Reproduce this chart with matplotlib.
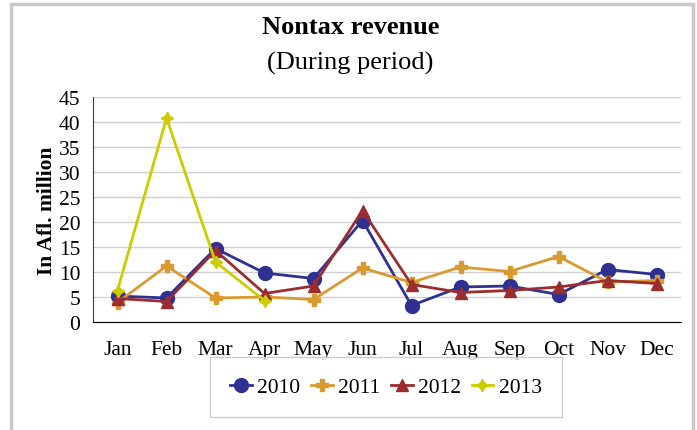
import matplotlib
matplotlib.use("Agg")
import matplotlib.pyplot as plt
from matplotlib.patches import Rectangle

plt.rcParams['font.family'] = ['Liberation Serif', 'DejaVu Serif']

months = ['Jan', 'Feb', 'Mar', 'Apr', 'May', 'Jun', 'Jul', 'Aug', 'Sep', 'Oct', 'Nov', 'Dec']
rev_2010 = [5.2, 4.8, 14.7, 9.8, 8.7, 20.3, 3.3, 7.0, 7.2, 5.5, 10.5, 9.5]
rev_2011 = [3.9, 11.2, 4.8, 5.0, 4.5, 10.8, 7.9, 11.0, 10.1, 13.1, 8.0, 8.3]
rev_2012 = [4.7, 4.1, 14.3, 5.7, 7.2, 22.3, 7.5, 5.9, 6.3, 7.0, 8.3, 7.7]
rev_2013 = [6.3, 40.8, 12.0, 4.3]
yticks = list(range(0, 50, 5))

fig = plt.figure(figsize=(6.97, 4.31), dpi=100)
ax = fig.add_axes([93 / 697, 1 - 323 / 431, (681 - 93) / 697, (323 - 98) / 431])

# chart frame around everything
fig.patches.append(Rectangle((11 / 697, -0.05), (693 - 11) / 697, 1 - 5 / 431 + 0.05,
                             transform=fig.transFigure, fill=False,
                             edgecolor='#c8c8c8', linewidth=2.5))

x = list(range(len(months)))
ax.plot(x, rev_2010, color='#2e3192', lw=2, marker='o', ms=10, label='2010')
ax.plot(x, rev_2011, color='#d99a30', lw=2, marker='P', ms=8, label='2011')
ax.plot(x, rev_2012, color='#9b2d2f', lw=2, marker='^', ms=9, label='2012')
ax.plot(x[:len(rev_2013)], rev_2013, color='#cccc00', lw=2, marker=(4, 1, 0), ms=9, label='2013')

ax.set_xlim(-0.5, 11.5)
ax.set_ylim(0, 45)
ax.set_xticks(x)
ax.set_xticklabels(months, fontsize=15.5)
ax.set_yticks(yticks)
ax.set_yticklabels([str(v) for v in yticks], fontsize=15.5)
ax.tick_params(length=0)
ax.tick_params(axis='x', pad=13)
ax.tick_params(axis='y', pad=9)
ax.grid(axis='y', color='#d0d0d0', lw=1)
ax.set_axisbelow(True)
for s in ['top', 'right']:
    ax.spines[s].set_visible(False)
ax.spines['left'].set_color('#404040')
ax.spines['bottom'].set_color('black')

ax.set_ylabel('In Afl. million', fontsize=15.5, fontweight='bold', labelpad=1)

fig.text(0.503, 1 - 28 / 431, 'Nontax revenue', ha='center', va='center',
         fontsize=19, fontweight='bold')
fig.text(0.503, 1 - 63 / 431, '(During period)', ha='center', va='center', fontsize=19)

leg = fig.legend(loc='center', bbox_to_anchor=(386 / 697, 1 - 388 / 431), ncol=4,
                 fontsize=15.5, frameon=True, fancybox=False, handlelength=1.0,
                 columnspacing=0.5, handletextpad=0.25, borderpad=0.95)
leg.get_frame().set_edgecolor('#c0c0c0')
leg.get_frame().set_linewidth(1)

fig.savefig('out.png', dpi=100)
